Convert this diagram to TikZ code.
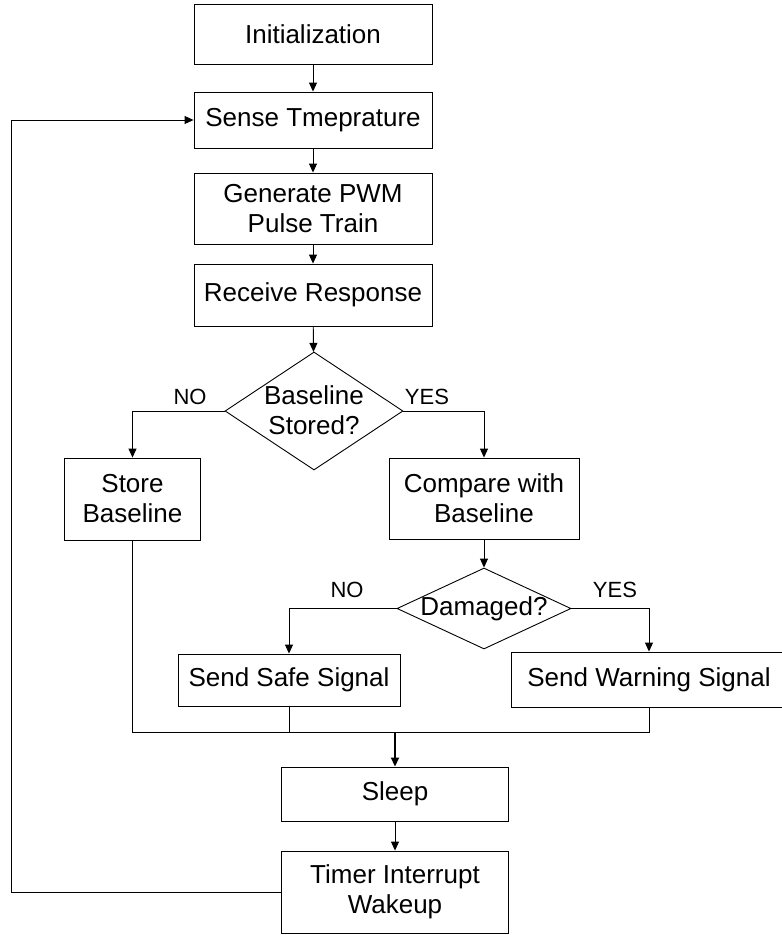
\documentclass[tikz,border=0pt]{standalone}
\usepackage{fontspec}
\setmainfont{Liberation Sans}
\usetikzlibrary{arrows.meta,shapes.geometric}
\begin{document}
\begin{tikzpicture}[x=1pt,y=-1pt,
  box/.style={draw, line width=0.9pt, inner sep=0pt, align=center, font=\fontsize{26}{30}\selectfont},
  dia/.style={draw, diamond, line width=0.9pt, inner sep=0pt},
  dtext/.style={inner sep=0pt, align=center, font=\fontsize{26}{30}\selectfont},
  lbl/.style={inner sep=0pt, font=\fontsize{22}{26}\selectfont},
  conn/.style={line width=0.9pt},
  arr/.style={conn, -{Triangle[length=9pt,width=8pt]}},
]
\useasboundingbox (0,0) rectangle (782,935);

\node[box, minimum width=238pt, minimum height=60pt] (init) at (313,34) {Initialization};
\node[box, minimum width=238pt, minimum height=56pt] (sense) at (313,120) {Sense Tmeprature};
\node[box, minimum width=238pt, minimum height=71pt] (gen) at (313,208.5) {Generate PWM\\Pulse Train};
\node[box, minimum width=238pt, minimum height=62pt] (recv) at (313,295) {Receive Response};
\node[dia, minimum width=178pt, minimum height=118pt] (d1) at (314,411) {};
\node[dtext] (d1t) at (314,410) {Baseline\\Stored?};
\node[box, minimum width=136pt, minimum height=82pt] (store) at (132.5,499) {Store\\Baseline};
\node[box, minimum width=190pt, minimum height=81pt] (cmp) at (484,498.5) {Compare with\\Baseline};
\node[dia, minimum width=174pt, minimum height=81pt] (d2) at (484,608.5) {};
\node[dtext] (d2t) at (484,609) {Damaged?};
\node[box, minimum width=222pt, minimum height=52pt] (safe) at (289,680) {Send Safe Signal};
\node[box, minimum width=276pt, minimum height=55pt] (warn) at (649,679.5) {Send Warning Signal};
\node[box, minimum width=227pt, minimum height=54pt] (sleep) at (395,794) {Sleep};
\node[box, minimum width=227pt, minimum height=82pt] (timer) at (395,892) {Timer Interrupt\\Wakeup};

\node[lbl] (no1) at (190,397) {NO};
\node[lbl] (yes1) at (427,397) {YES};
\node[lbl] (no2) at (347,590) {NO};
\node[lbl] (yes2) at (615,590) {YES};

\coordinate (m) at (395,732);
\coordinate (lp) at (11,0);

\draw[arr] (init) -- (sense);
\draw[arr] (sense) -- (gen);
\draw[arr] (gen) -- (recv);
\draw[arr] (recv) -- (d1);
\draw[arr] (d1.west) -| (store.north);
\draw[arr] (d1.east) -| (cmp.north);
\draw[arr] (cmp) -- (d2);
\draw[arr] (d2.west) -| (safe.north);
\draw[arr] (d2.east) -| (warn.north);
\draw[conn] (store.south) -- (store.south |- m) -- (warn.south |- m) -- (warn.south);
\draw[conn] (safe.south) -- (safe.south |- m);
\draw[arr, line width=1.8pt] (m) -- (sleep.north);
\draw[arr] (sleep) -- (timer);
\draw[arr] (timer.west) -- (timer.west -| lp) |- (sense.west);
\end{tikzpicture}
\end{document}
